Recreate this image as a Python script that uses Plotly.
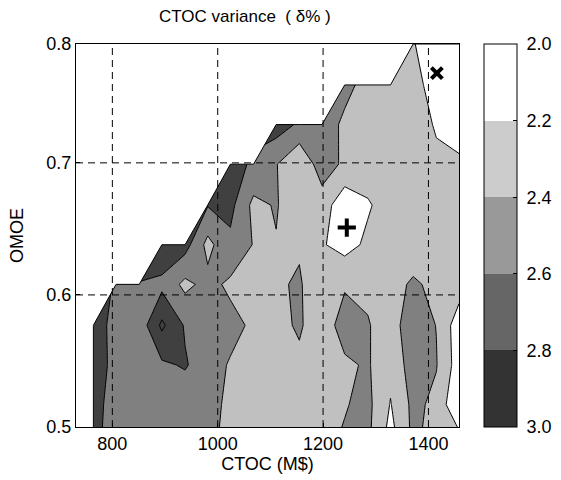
import plotly.graph_objects as go

# grid coordinates
ctoc = [764, 807, 851, 894, 938, 981, 1024, 1068, 1111, 1155, 1198, 1241, 1285, 1328, 1371, 1415, 1458]
omoe = [0.486, 0.517, 0.547, 0.577, 0.608, 0.638, 0.668, 0.699, 0.729, 0.759, 0.790]

N = None
# CTOC variance (delta %), one row per OMOE value (bottom to top); None = no design
var_r0 = [2.7, 2.42, 2.5, 2.5, 2.5, 2.455, 2.33, 2.3, 2.3, 2.3, 2.363, 2.424, 2.44, 2.1, 2.445, 2.3, 2.317]
var_r1 = [2.7, 2.478, 2.5, 2.52, 2.466, 2.478, 2.35, 2.3, 2.3, 2.3, 2.3, 2.388, 2.45, 2.19, 2.45, 2.354, 2.0]
var_r2 = [2.7, 2.539, 2.5, 2.567, 2.62, 2.483, 2.383, 2.3, 2.3, 2.367, 2.3, 2.37, 2.42, 2.2525, 2.5, 2.41, 2.1]
var_r3 = [2.7, 2.53, 2.476, 2.84, 2.579, 2.5, 2.46, 2.366, 2.355, 2.42, 2.3, 2.48, 2.41, 2.327, 2.5, 2.396, 2.085]
var_r4 = [N, 2.59, 2.595, 2.547, 2.35, 2.46, 2.363, 2.3, 2.377, 2.42, 2.266, 2.38, 2.37, 2.3, 2.44, 2.335, 2.302]
var_r5 = [N, N, N, 2.77, 2.68, 2.34, 2.554, 2.39, 2.389, 2.38, 2.217, 2.128, 2.237, 2.3, 2.24, 2.3, 2.3]
var_r6 = [N, N, N, N, N, 2.61, 2.659, 2.346, 2.417, 2.247, 2.297, 2.07, 2.18, 2.285, 2.3, 2.3, 2.3]
var_r7 = [N, N, N, N, N, N, 2.65, 2.58, 2.41, 2.217, 2.512, 2.359, 2.3, 2.3, 2.3, 2.24, 2.237]
var_r8 = [N, N, N, N, N, N, N, N, 2.7, 2.568, 2.58, 2.333, 2.3, 2.3, 2.3, 2.18, 2.1]
var_r9 = [N, N, N, N, N, N, N, N, N, N, N, 2.5, 2.28, 2.3, 2.28, 2.1, 2.1]
var_r10 = [N, N, N, N, N, N, N, N, N, N, N, N, N, N, 2.21, 2.1, 2.1]
variance = [var_r0, var_r1, var_r2, var_r3, var_r4, var_r5, var_r6, var_r7, var_r8, var_r9, var_r10]

# marked designs
plus_pt = (1245, 0.651)
cross_pt = (1416, 0.768)

x_ticks = [800, 1000, 1200, 1400]
y_ticks = [0.5, 0.6, 0.7, 0.79]
y_ticktext = ["0.5", "0.6", "0.7", "0.8"]
cb_ticks = [2.0, 2.2, 2.4, 2.6, 2.8, 3.0]

FONT = "Liberation Sans, Arial, sans-serif"

fig = go.Figure()

fig.add_trace(go.Contour(
    x=ctoc, y=omoe, z=variance,
    contours=dict(start=2.2, end=2.8, size=0.2, coloring="fill"),
    colorscale=[[0, "#ffffff"], [0.125, "#ffffff"], [0.125, "#c0c0c0"], [0.375, "#c0c0c0"],
                [0.375, "#808080"], [0.625, "#808080"], [0.625, "#404040"], [1, "#404040"]],
    line=dict(color="black", width=1, smoothing=0),
    showscale=False, hoverinfo="skip",
))

# region without data (above the feasible frontier): derived from the None mask
top_idx = []
for c in range(len(ctoc)):
    t = max(r for r in range(len(omoe)) if variance[r][c] is not None)
    top_idx.append(t)
px = [ctoc[0]] + [ctoc[c] for c in range(len(ctoc))] + [ctoc[-1], 700, 700, ctoc[0]]
py = [0.45] + [omoe[top_idx[c]] for c in range(len(ctoc))] + [0.85, 0.85, 0.45, 0.45]
fig.add_trace(go.Scatter(x=px, y=py, mode="lines", fill="toself", fillcolor="white",
                         line=dict(color="black", width=1), hoverinfo="skip", showlegend=False))

fig.add_trace(go.Scatter(x=[plus_pt[0]], y=[plus_pt[1]], mode="markers",
                         marker=dict(symbol="cross-thin", size=13, line=dict(color="black", width=4)),
                         showlegend=False, hoverinfo="skip"))
fig.add_trace(go.Scatter(x=[cross_pt[0]], y=[cross_pt[1]], mode="markers",
                         marker=dict(symbol="x-thin", size=11, line=dict(color="black", width=4)),
                         showlegend=False, hoverinfo="skip"))

# colour bar (2.0 at top)
cb_colors = ["#333333", "#666666", "#999999", "#cccccc", "#ffffff"]
cscale = []
for k, col in enumerate(cb_colors):
    cscale.append([k / 5, col])
    cscale.append([(k + 1) / 5, col])
fig.add_trace(go.Scatter(
    x=[None, None], y=[None, None], mode="markers", showlegend=False, hoverinfo="skip",
    marker=dict(color=[-cb_ticks[-1], -cb_ticks[0]], cmin=-cb_ticks[-1], cmax=-cb_ticks[0],
                colorscale=cscale, showscale=True,
                colorbar=dict(x=1.0653, xanchor="left", xref="paper", y=0.5, yanchor="middle",
                              len=1, lenmode="fraction", thickness=33,
                              outlinecolor="black", outlinewidth=1,
                              tickvals=[-v for v in cb_ticks],
                              ticktext=["\u00a0%.1f" % v for v in cb_ticks],
                              ticks="inside", ticklen=4, tickcolor="black",
                              tickfont=dict(family=FONT, size=18, color="black"), xpad=0, ypad=0))
))

# dashed grid drawn over the filled contours
for v in x_ticks:
    fig.add_shape(type="line", xref="x", yref="paper", x0=v, x1=v, y0=0, y1=1,
                  line=dict(color="black", width=1, dash="7px,5px"), layer="above")
for v in y_ticks[1:3]:
    fig.add_shape(type="line", xref="paper", yref="y", x0=0, x1=1, y0=v, y1=v,
                  line=dict(color="black", width=1, dash="7px,5px"), layer="above")

fig.add_annotation(text="CTOC variance  ( δ% )", xref="paper", yref="paper",
                   x=(245 - 76) / 383, y=(427 - 17) / 383, xanchor="center", yanchor="middle",
                   showarrow=False, font=dict(family=FONT, size=17, color="black"))

fig.update_layout(
    width=561, height=480,
    margin=dict(l=76, r=102, t=44, b=53, autoexpand=False),
    paper_bgcolor="white", plot_bgcolor="white",
    font=dict(family=FONT, size=18, color="black"),
    xaxis=dict(range=[731, 1458], tickvals=x_ticks, showgrid=False, zeroline=False,
               showline=True, mirror=True, linecolor="black", linewidth=1,
               ticks="inside", ticklen=4, tickcolor="black", layer="above traces",
               title=dict(text="CTOC (M$)", standoff=2, font=dict(size=18)),
               tickfont=dict(size=18)),
    yaxis=dict(range=[0.5, 0.79], tickvals=y_ticks, ticktext=y_ticktext, showgrid=False, zeroline=False,
               showline=True, mirror=True, linecolor="black", linewidth=1,
               ticks="inside", ticklen=4, tickcolor="black", layer="above traces",
               title=dict(text="OMOE", standoff=18, font=dict(size=18)),
               tickfont=dict(size=18)),
)

fig.write_html("out.html")
